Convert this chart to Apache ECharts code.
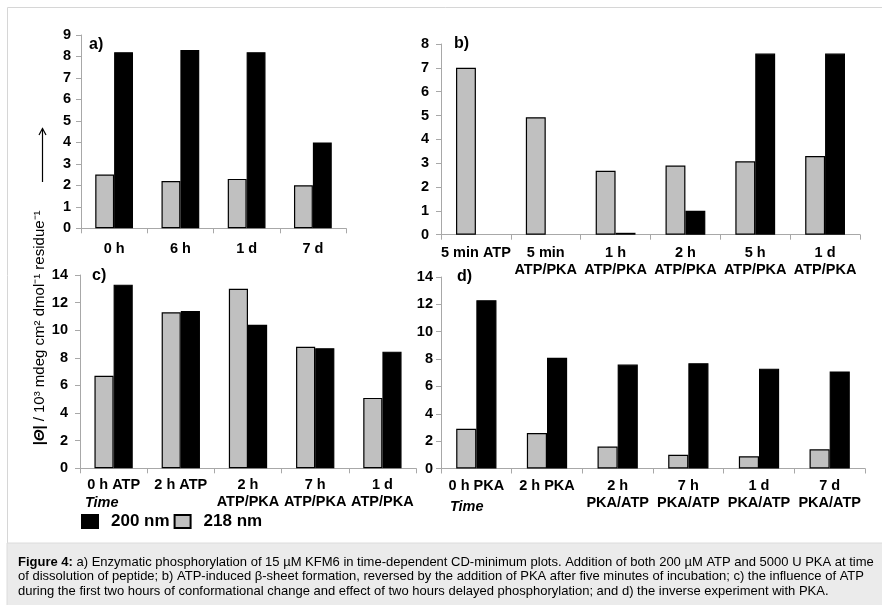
<!DOCTYPE html>
<html>
<head>
<meta charset="utf-8">
<script src="https://cdn.jsdelivr.net/npm/echarts@6/dist/echarts.min.js"></script>
<style>
html,body{margin:0;padding:0;background:#fff;}
#chart{width:882px;height:605px;}
</style>
</head>
<body>
<div id="chart"></div>
<script>
// ---- data ----
var catsA = ['0 h', '6 h', '1 d', '7 d'];
var a218 = [2.5, 2.2, 2.3, 2.0];
var a200 = [8.2, 8.3, 8.2, 4.0];

var catsB = ['5 min ATP', '5 min\nATP/PKA', '1 h\nATP/PKA', '2 h\nATP/PKA', '5 h\nATP/PKA', '1 d\nATP/PKA'];
var b218 = [7.0, 4.93, 2.68, 2.9, 3.08, 3.3];
var b200 = [0, 0, 0.08, 1.0, 7.6, 7.6];

var catsC = ['0 h ATP', '2 h ATP', '2 h\nATP/PKA', '7 h\nATP/PKA', '1 d\nATP/PKA'];
var c218 = [6.7, 11.3, 13.0, 8.8, 5.1];
var c200 = [13.3, 11.4, 10.4, 8.7, 8.45];

var catsD = ['0 h PKA', '2 h PKA', '2 h\nPKA/ATP', '7 h\nPKA/ATP', '1 d\nPKA/ATP', '7 d\nPKA/ATP'];
var d218 = [2.9, 2.6, 1.6, 1.0, 0.9, 1.4];
var d200 = [12.3, 8.1, 7.6, 7.7, 7.3, 7.1];

var yMaxA = 9, yMaxB = 8, yMaxC = 14, yMaxD = 14;
var panelLetters = ['a)', 'b)', 'c)', 'd)'];
var legendNames = ['200 nm', '218 nm'];
var axisTitle = ['|Θ|', ' / 10³ mdeg cm² dmol⁻¹ residue⁻¹'];
var timeLabel = 'Time';
var captionLines = [
  ['Figure 4:', ' a) Enzymatic phosphorylation of 15 µM KFM6 in time-dependent CD-minimum plots. Addition of both 200 µM ATP and 5000 U PKA at time'],
  ['', 'of dissolution of peptide; b) ATP-induced β-sheet formation, reversed by the addition of PKA after five minutes of incubation; c) the influence of ATP'],
  ['', 'during the first two hours of conformational change and effect of two hours delayed phosphorylation; and d) the inverse experiment with PKA.']
];

// ---- styling ----
var FONT = '"Liberation Sans", Arial, sans-serif';
var AX = '#a8a8a8';
var GRAY = '#c0c0c0';
var LBL = 14.5;

function xAx(idx, cats, margin) {
  return {
    type: 'category', gridIndex: idx, data: cats,
    axisLine: {lineStyle: {color: AX, width: 1}},
    axisTick: {show: true, alignWithLabel: false, length: 5, lineStyle: {color: AX}},
    axisLabel: {interval: 0, margin: margin, color: '#000', fontFamily: FONT, fontWeight: 'bold', fontSize: LBL, lineHeight: 17}
  };
}
function yAx(idx, max, interval, margin) {
  return {
    type: 'value', gridIndex: idx, min: 0, max: max, interval: interval,
    splitLine: {show: false},
    axisLine: {show: true, lineStyle: {color: AX, width: 1}},
    axisTick: {show: true, length: 5, lineStyle: {color: AX}},
    axisLabel: {margin: margin, color: '#000', fontFamily: FONT, fontWeight: 'bold', fontSize: LBL}
  };
}
function toItems(data) {
  // zero-height bars get no outline (nothing visible in the reference)
  return data.map(function (v) {
    return v === 0 ? {value: v, itemStyle: {borderWidth: 0}} : v;
  });
}
function bars(name, idx, data, color) {
  return {
    type: 'bar', name: name, xAxisIndex: idx, yAxisIndex: idx, data: toItems(data),
    barGap: '0%', barCategoryGap: '43%', silent: true,
    itemStyle: {color: color, borderColor: '#000', borderWidth: 1.2},
    animation: false
  };
}

var chart = echarts.init(document.getElementById('chart'), null, {renderer: 'canvas'});

var graphic = [
  {type: 'rect', shape: {x: 7.5, y: 7.5, width: 900, height: 536}, style: {fill: 'none', stroke: '#d6d6d6', lineWidth: 1}, z: -10},
  {type: 'rect', shape: {x: 7, y: 543, width: 880, height: 70}, style: {fill: '#ebebeb', stroke: '#dcdcdc', lineWidth: 1}, z: -10},
  {type: 'text', x: 89, y: 45, style: {text: panelLetters[0], font: 'bold 16px ' + FONT, fill: '#000', verticalAlign: 'middle'}},
  {type: 'text', x: 454, y: 44, style: {text: panelLetters[1], font: 'bold 16px ' + FONT, fill: '#000', verticalAlign: 'middle'}},
  {type: 'text', x: 92, y: 276, style: {text: panelLetters[2], font: 'bold 16px ' + FONT, fill: '#000', verticalAlign: 'middle'}},
  {type: 'text', x: 457, y: 277, style: {text: panelLetters[3], font: 'bold 16px ' + FONT, fill: '#000', verticalAlign: 'middle'}},
  {type: 'text', x: 85, y: 503, style: {text: timeLabel, font: 'italic bold 14.5px ' + FONT, fill: '#000', verticalAlign: 'middle'}},
  {type: 'text', x: 450, y: 507, style: {text: timeLabel, font: 'italic bold 14.5px ' + FONT, fill: '#000', verticalAlign: 'middle'}},
  {type: 'text', x: 40, y: 328, rotation: Math.PI / 2,
    style: {
      text: '{it|' + axisTitle[0] + '}{n|' + axisTitle[1] + '}',
      align: 'center', verticalAlign: 'middle',
      rich: {
        it: {fontFamily: FONT, fontStyle: 'italic', fontWeight: 'bold', fontSize: 15, fill: '#000'},
        n: {fontFamily: FONT, fontSize: 15, fill: '#000'}
      }
    }
  },
  {type: 'line', shape: {x1: 42.5, y1: 182, x2: 42.5, y2: 128.5}, style: {stroke: '#000', lineWidth: 1.2}},
  {type: 'polyline', shape: {points: [[39, 135], [42.5, 128.5], [46, 135]]}, style: {stroke: '#000', fill: 'none', lineWidth: 1.2}}
];
var capY = [562, 576.5, 591];
captionLines.forEach(function (ln, i) {
  graphic.push({type: 'text', x: 18, y: capY[i], style: {
    text: (ln[0] ? '{b|' + ln[0] + '}' : '') + '{r|' + ln[1] + '}',
    verticalAlign: 'middle',
    rich: {
      b: {fontFamily: FONT, fontWeight: 'bold', fontSize: 13, fill: '#000'},
      r: {fontFamily: FONT, fontSize: 13, fill: '#000'}
    }
  }});
});

var option = {
  backgroundColor: '#fff',
  animation: false,
  textStyle: {fontFamily: FONT},
  legend: {
    data: legendNames, left: 81, top: 513, orient: 'horizontal', padding: 0,
    itemWidth: 16, itemHeight: 13, itemGap: 4, icon: 'rect',
    selectedMode: false,
    textStyle: {color: '#000', fontFamily: FONT, fontWeight: 'bold', fontSize: 17, padding: [0, 0, 0, 8]}
  },
  grid: [
    {left: 81, top: 35, width: 265, height: 193.3},
    {left: 441, top: 44, width: 419, height: 190.7},
    {left: 80, top: 275, width: 336, height: 193.3},
    {left: 441, top: 277, width: 424, height: 191.5}
  ],
  xAxis: [
    xAx(0, catsA, 12),
    xAx(1, catsB, 10),
    xAx(2, catsC, 8),
    xAx(3, catsD, 9)
  ],
  yAxis: [
    yAx(0, yMaxA, 1, 10),
    yAx(1, yMaxB, 1, 12),
    yAx(2, yMaxC, 2, 12),
    yAx(3, yMaxD, 2, 8)
  ],
  series: [
    bars('218 nm', 0, a218, GRAY), bars('200 nm', 0, a200, '#000'),
    bars('218 nm', 1, b218, GRAY), bars('200 nm', 1, b200, '#000'),
    bars('218 nm', 2, c218, GRAY), bars('200 nm', 2, c200, '#000'),
    bars('218 nm', 3, d218, GRAY), bars('200 nm', 3, d200, '#000')
  ],
  graphic: graphic
};
chart.setOption(option);
</script>
</body>
</html>
